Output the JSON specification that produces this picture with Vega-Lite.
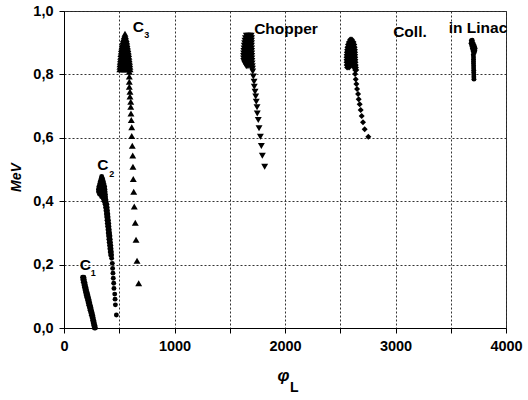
{
"$schema": "https://vega.github.io/schema/vega-lite/v6.json",
"width": 442, "height": 317,
"autosize": "none",
"padding": {"left": 64, "top": 11, "right": 22, "bottom": 72},
"background": "white",
"config": {
  "view": {"stroke": "#222", "strokeWidth": 1},
  "font": "Liberation Sans",
  "axis": {"domainColor": "black", "tickColor": "black", "labelColor": "black", "titleColor": "black", "labelFont": "Liberation Sans", "labelFontWeight": "bold", "labelFontSize": 14.5, "tickSize": 5, "labelPadding": 6, "labelFlush": false, "gridColor": "#333", "gridDash": [2, 2], "gridWidth": 1}
},
"datasets": {
"pts": [
{"s":"C1","x":168,"y":0.160},{"s":"C1","x":180,"y":0.160},
{"s":"C1","x":170,"y":0.152},{"s":"C1","x":184,"y":0.152},
{"s":"C1","x":175,"y":0.144},{"s":"C1","x":189,"y":0.144},
{"s":"C1","x":180,"y":0.136},{"s":"C1","x":194,"y":0.136},
{"s":"C1","x":185,"y":0.128},{"s":"C1","x":199,"y":0.128},
{"s":"C1","x":190,"y":0.120},{"s":"C1","x":204,"y":0.120},
{"s":"C1","x":195,"y":0.112},{"s":"C1","x":210,"y":0.112},
{"s":"C1","x":200,"y":0.104},{"s":"C1","x":216,"y":0.104},
{"s":"C1","x":206,"y":0.096},{"s":"C1","x":222,"y":0.096},
{"s":"C1","x":212,"y":0.088},{"s":"C1","x":228,"y":0.088},
{"s":"C1","x":218,"y":0.080},{"s":"C1","x":233,"y":0.080},
{"s":"C1","x":224,"y":0.072},{"s":"C1","x":238,"y":0.072},
{"s":"C1","x":230,"y":0.064},{"s":"C1","x":244,"y":0.064},
{"s":"C1","x":236,"y":0.056},{"s":"C1","x":249,"y":0.056},
{"s":"C1","x":242,"y":0.048},{"s":"C1","x":255,"y":0.048},
{"s":"C1","x":248,"y":0.040},{"s":"C1","x":260,"y":0.040},
{"s":"C1","x":254,"y":0.032},{"s":"C1","x":265,"y":0.032},
{"s":"C1","x":259,"y":0.024},{"s":"C1","x":270,"y":0.024},
{"s":"C1","x":264,"y":0.016},{"s":"C1","x":275,"y":0.016},
{"s":"C1","x":269,"y":0.008},{"s":"C1","x":280,"y":0.008},
{"s":"C1","x":274,"y":0.000},{"s":"C1","x":285,"y":0.000},
{"s":"C2","x":341,"y":0.478},
{"s":"C2","x":335,"y":0.470},{"s":"C2","x":350,"y":0.470},
{"s":"C2","x":328,"y":0.462},{"s":"C2","x":342,"y":0.462},{"s":"C2","x":356,"y":0.462},
{"s":"C2","x":322,"y":0.454},{"s":"C2","x":336,"y":0.454},{"s":"C2","x":350,"y":0.454},{"s":"C2","x":362,"y":0.454},
{"s":"C2","x":316,"y":0.446},{"s":"C2","x":330,"y":0.446},{"s":"C2","x":344,"y":0.446},{"s":"C2","x":358,"y":0.446},{"s":"C2","x":368,"y":0.446},
{"s":"C2","x":312,"y":0.438},{"s":"C2","x":326,"y":0.438},{"s":"C2","x":340,"y":0.438},{"s":"C2","x":354,"y":0.438},{"s":"C2","x":370,"y":0.438},
{"s":"C2","x":312,"y":0.430},{"s":"C2","x":326,"y":0.430},{"s":"C2","x":340,"y":0.430},{"s":"C2","x":356,"y":0.430},{"s":"C2","x":372,"y":0.430},
{"s":"C2","x":322,"y":0.422},{"s":"C2","x":338,"y":0.422},{"s":"C2","x":355,"y":0.422},{"s":"C2","x":374,"y":0.422},
{"s":"C2","x":340,"y":0.414},{"s":"C2","x":358,"y":0.414},{"s":"C2","x":376,"y":0.414},
{"s":"C2","x":358,"y":0.406},{"s":"C2","x":378,"y":0.406},
{"s":"C2","x":365,"y":0.398},{"s":"C2","x":382,"y":0.398},
{"s":"C2","x":372,"y":0.390},{"s":"C2","x":388,"y":0.390},
{"s":"C2","x":376,"y":0.380},{"s":"C2","x":391,"y":0.380},
{"s":"C2","x":380,"y":0.370},{"s":"C2","x":394,"y":0.370},
{"s":"C2","x":383,"y":0.360},{"s":"C2","x":397,"y":0.360},
{"s":"C2","x":386,"y":0.350},{"s":"C2","x":399,"y":0.350},
{"s":"C2","x":389,"y":0.340},{"s":"C2","x":402,"y":0.340},
{"s":"C2","x":392,"y":0.330},{"s":"C2","x":405,"y":0.330},
{"s":"C2","x":395,"y":0.320},{"s":"C2","x":407,"y":0.320},
{"s":"C2","x":398,"y":0.310},{"s":"C2","x":410,"y":0.310},
{"s":"C2","x":400,"y":0.300},{"s":"C2","x":413,"y":0.300},
{"s":"C2","x":403,"y":0.290},{"s":"C2","x":416,"y":0.290},
{"s":"C2","x":406,"y":0.280},{"s":"C2","x":418,"y":0.280},
{"s":"C2","x":409,"y":0.270},{"s":"C2","x":421,"y":0.270},
{"s":"C2","x":412,"y":0.260},{"s":"C2","x":424,"y":0.260},
{"s":"C2","x":415,"y":0.250},{"s":"C2","x":426,"y":0.250},
{"s":"C2","x":418,"y":0.240},{"s":"C2","x":429,"y":0.240},
{"s":"C2","x":422,"y":0.230},{"s":"C2","x":431,"y":0.230},
{"s":"C2","x":431,"y":0.220},{"s":"C2","x":437,"y":0.204},{"s":"C2","x":440,"y":0.188},{"s":"C2","x":443,"y":0.173},{"s":"C2","x":446,"y":0.157},{"s":"C2","x":450,"y":0.141},{"s":"C2","x":452,"y":0.125},{"s":"C2","x":459,"y":0.107},{"s":"C2","x":462,"y":0.091},{"s":"C2","x":465,"y":0.073},{"s":"C2","x":474,"y":0.041},
{"s":"C3","x":552,"y":0.928},
{"s":"C3","x":545,"y":0.920},{"s":"C3","x":557,"y":0.920},
{"s":"C3","x":538,"y":0.912},{"s":"C3","x":552,"y":0.912},{"s":"C3","x":563,"y":0.912},
{"s":"C3","x":532,"y":0.904},{"s":"C3","x":546,"y":0.904},{"s":"C3","x":560,"y":0.904},{"s":"C3","x":568,"y":0.904},
{"s":"C3","x":528,"y":0.896},{"s":"C3","x":542,"y":0.896},{"s":"C3","x":556,"y":0.896},{"s":"C3","x":570,"y":0.896},
{"s":"C3","x":524,"y":0.888},{"s":"C3","x":538,"y":0.888},{"s":"C3","x":552,"y":0.888},{"s":"C3","x":566,"y":0.888},{"s":"C3","x":575,"y":0.888},
{"s":"C3","x":520,"y":0.880},{"s":"C3","x":534,"y":0.880},{"s":"C3","x":548,"y":0.880},{"s":"C3","x":562,"y":0.880},{"s":"C3","x":578,"y":0.880},
{"s":"C3","x":518,"y":0.872},{"s":"C3","x":532,"y":0.872},{"s":"C3","x":546,"y":0.872},{"s":"C3","x":560,"y":0.872},{"s":"C3","x":574,"y":0.872},{"s":"C3","x":582,"y":0.872},
{"s":"C3","x":515,"y":0.864},{"s":"C3","x":529,"y":0.864},{"s":"C3","x":543,"y":0.864},{"s":"C3","x":557,"y":0.864},{"s":"C3","x":571,"y":0.864},{"s":"C3","x":585,"y":0.864},
{"s":"C3","x":513,"y":0.856},{"s":"C3","x":527,"y":0.856},{"s":"C3","x":541,"y":0.856},{"s":"C3","x":555,"y":0.856},{"s":"C3","x":569,"y":0.856},{"s":"C3","x":588,"y":0.856},
{"s":"C3","x":511,"y":0.848},{"s":"C3","x":525,"y":0.848},{"s":"C3","x":539,"y":0.848},{"s":"C3","x":553,"y":0.848},{"s":"C3","x":567,"y":0.848},{"s":"C3","x":590,"y":0.848},
{"s":"C3","x":509,"y":0.840},{"s":"C3","x":523,"y":0.840},{"s":"C3","x":537,"y":0.840},{"s":"C3","x":551,"y":0.840},{"s":"C3","x":565,"y":0.840},{"s":"C3","x":580,"y":0.840},{"s":"C3","x":593,"y":0.840},
{"s":"C3","x":507,"y":0.832},{"s":"C3","x":521,"y":0.832},{"s":"C3","x":535,"y":0.832},{"s":"C3","x":549,"y":0.832},{"s":"C3","x":563,"y":0.832},{"s":"C3","x":577,"y":0.832},{"s":"C3","x":595,"y":0.832},
{"s":"C3","x":506,"y":0.824},{"s":"C3","x":520,"y":0.824},{"s":"C3","x":534,"y":0.824},{"s":"C3","x":548,"y":0.824},{"s":"C3","x":562,"y":0.824},{"s":"C3","x":576,"y":0.824},{"s":"C3","x":597,"y":0.824},
{"s":"C3","x":505,"y":0.816},{"s":"C3","x":520,"y":0.816},{"s":"C3","x":535,"y":0.816},{"s":"C3","x":550,"y":0.816},{"s":"C3","x":565,"y":0.816},{"s":"C3","x":580,"y":0.816},{"s":"C3","x":598,"y":0.816},
{"s":"C3","x":591,"y":0.808},{"s":"C3","x":591,"y":0.793},{"s":"C3","x":591,"y":0.777},{"s":"C3","x":591,"y":0.761},{"s":"C3","x":597,"y":0.745},{"s":"C3","x":597,"y":0.730},{"s":"C3","x":604,"y":0.714},{"s":"C3","x":604,"y":0.698},{"s":"C3","x":606,"y":0.677},{"s":"C3","x":609,"y":0.656},{"s":"C3","x":613,"y":0.633},{"s":"C3","x":613,"y":0.606},{"s":"C3","x":618,"y":0.575},{"s":"C3","x":622,"y":0.544},{"s":"C3","x":624,"y":0.509},{"s":"C3","x":627,"y":0.470},{"s":"C3","x":631,"y":0.430},{"s":"C3","x":636,"y":0.383},{"s":"C3","x":645,"y":0.332},{"s":"C3","x":652,"y":0.278},{"s":"C3","x":661,"y":0.212},{"s":"C3","x":676,"y":0.141},
{"s":"Chopper","x":1650,"y":0.922},{"s":"Chopper","x":1665,"y":0.922},{"s":"Chopper","x":1680,"y":0.922},{"s":"Chopper","x":1694,"y":0.922},
{"s":"Chopper","x":1642,"y":0.914},{"s":"Chopper","x":1657,"y":0.914},{"s":"Chopper","x":1672,"y":0.914},{"s":"Chopper","x":1687,"y":0.914},{"s":"Chopper","x":1697,"y":0.914},
{"s":"Chopper","x":1638,"y":0.906},{"s":"Chopper","x":1653,"y":0.906},{"s":"Chopper","x":1668,"y":0.906},{"s":"Chopper","x":1683,"y":0.906},{"s":"Chopper","x":1697,"y":0.906},
{"s":"Chopper","x":1635,"y":0.898},{"s":"Chopper","x":1650,"y":0.898},{"s":"Chopper","x":1665,"y":0.898},{"s":"Chopper","x":1680,"y":0.898},{"s":"Chopper","x":1697,"y":0.898},
{"s":"Chopper","x":1632,"y":0.890},{"s":"Chopper","x":1647,"y":0.890},{"s":"Chopper","x":1662,"y":0.890},{"s":"Chopper","x":1677,"y":0.890},{"s":"Chopper","x":1697,"y":0.890},
{"s":"Chopper","x":1630,"y":0.882},{"s":"Chopper","x":1645,"y":0.882},{"s":"Chopper","x":1660,"y":0.882},{"s":"Chopper","x":1675,"y":0.882},{"s":"Chopper","x":1698,"y":0.882},
{"s":"Chopper","x":1628,"y":0.874},{"s":"Chopper","x":1643,"y":0.874},{"s":"Chopper","x":1658,"y":0.874},{"s":"Chopper","x":1673,"y":0.874},{"s":"Chopper","x":1698,"y":0.874},
{"s":"Chopper","x":1626,"y":0.866},{"s":"Chopper","x":1641,"y":0.866},{"s":"Chopper","x":1656,"y":0.866},{"s":"Chopper","x":1671,"y":0.866},{"s":"Chopper","x":1699,"y":0.866},
{"s":"Chopper","x":1625,"y":0.858},{"s":"Chopper","x":1640,"y":0.858},{"s":"Chopper","x":1655,"y":0.858},{"s":"Chopper","x":1670,"y":0.858},{"s":"Chopper","x":1699,"y":0.858},
{"s":"Chopper","x":1625,"y":0.850},{"s":"Chopper","x":1640,"y":0.850},{"s":"Chopper","x":1655,"y":0.850},{"s":"Chopper","x":1670,"y":0.850},{"s":"Chopper","x":1700,"y":0.850},
{"s":"Chopper","x":1627,"y":0.842},{"s":"Chopper","x":1642,"y":0.842},{"s":"Chopper","x":1657,"y":0.842},{"s":"Chopper","x":1672,"y":0.842},{"s":"Chopper","x":1700,"y":0.842},
{"s":"Chopper","x":1635,"y":0.834},{"s":"Chopper","x":1650,"y":0.834},{"s":"Chopper","x":1665,"y":0.834},{"s":"Chopper","x":1685,"y":0.834},{"s":"Chopper","x":1702,"y":0.834},
{"s":"Chopper","x":1650,"y":0.826},{"s":"Chopper","x":1665,"y":0.826},{"s":"Chopper","x":1690,"y":0.826},{"s":"Chopper","x":1704,"y":0.826},
{"s":"Chopper","x":1698,"y":0.818},{"s":"Chopper","x":1706,"y":0.818},
{"s":"Chopper","x":1708,"y":0.809},{"s":"Chopper","x":1713,"y":0.793},{"s":"Chopper","x":1720,"y":0.777},{"s":"Chopper","x":1722,"y":0.761},{"s":"Chopper","x":1729,"y":0.745},{"s":"Chopper","x":1735,"y":0.730},{"s":"Chopper","x":1740,"y":0.714},{"s":"Chopper","x":1747,"y":0.696},{"s":"Chopper","x":1749,"y":0.677},{"s":"Chopper","x":1758,"y":0.656},{"s":"Chopper","x":1765,"y":0.630},{"s":"Chopper","x":1777,"y":0.603},{"s":"Chopper","x":1786,"y":0.574},{"s":"Chopper","x":1795,"y":0.543},{"s":"Chopper","x":1816,"y":0.509},
{"s":"Coll.","x":2590,"y":0.910},{"s":"Coll.","x":2605,"y":0.910},
{"s":"Coll.","x":2578,"y":0.902},{"s":"Coll.","x":2593,"y":0.902},{"s":"Coll.","x":2608,"y":0.902},{"s":"Coll.","x":2620,"y":0.902},
{"s":"Coll.","x":2570,"y":0.894},{"s":"Coll.","x":2585,"y":0.894},{"s":"Coll.","x":2600,"y":0.894},{"s":"Coll.","x":2615,"y":0.894},{"s":"Coll.","x":2627,"y":0.894},
{"s":"Coll.","x":2565,"y":0.886},{"s":"Coll.","x":2580,"y":0.886},{"s":"Coll.","x":2595,"y":0.886},{"s":"Coll.","x":2610,"y":0.886},{"s":"Coll.","x":2625,"y":0.886},{"s":"Coll.","x":2630,"y":0.886},
{"s":"Coll.","x":2562,"y":0.878},{"s":"Coll.","x":2577,"y":0.878},{"s":"Coll.","x":2592,"y":0.878},{"s":"Coll.","x":2607,"y":0.878},{"s":"Coll.","x":2622,"y":0.878},{"s":"Coll.","x":2633,"y":0.878},
{"s":"Coll.","x":2560,"y":0.870},{"s":"Coll.","x":2575,"y":0.870},{"s":"Coll.","x":2590,"y":0.870},{"s":"Coll.","x":2605,"y":0.870},{"s":"Coll.","x":2620,"y":0.870},{"s":"Coll.","x":2634,"y":0.870},
{"s":"Coll.","x":2558,"y":0.862},{"s":"Coll.","x":2573,"y":0.862},{"s":"Coll.","x":2588,"y":0.862},{"s":"Coll.","x":2603,"y":0.862},{"s":"Coll.","x":2618,"y":0.862},{"s":"Coll.","x":2635,"y":0.862},
{"s":"Coll.","x":2557,"y":0.854},{"s":"Coll.","x":2572,"y":0.854},{"s":"Coll.","x":2587,"y":0.854},{"s":"Coll.","x":2602,"y":0.854},{"s":"Coll.","x":2617,"y":0.854},{"s":"Coll.","x":2636,"y":0.854},
{"s":"Coll.","x":2557,"y":0.846},{"s":"Coll.","x":2572,"y":0.846},{"s":"Coll.","x":2587,"y":0.846},{"s":"Coll.","x":2602,"y":0.846},{"s":"Coll.","x":2617,"y":0.846},{"s":"Coll.","x":2637,"y":0.846},
{"s":"Coll.","x":2557,"y":0.838},{"s":"Coll.","x":2572,"y":0.838},{"s":"Coll.","x":2587,"y":0.838},{"s":"Coll.","x":2602,"y":0.838},{"s":"Coll.","x":2620,"y":0.838},{"s":"Coll.","x":2638,"y":0.838},
{"s":"Coll.","x":2558,"y":0.830},{"s":"Coll.","x":2573,"y":0.830},{"s":"Coll.","x":2590,"y":0.830},{"s":"Coll.","x":2610,"y":0.830},{"s":"Coll.","x":2630,"y":0.830},{"s":"Coll.","x":2640,"y":0.830},
{"s":"Coll.","x":2562,"y":0.822},{"s":"Coll.","x":2580,"y":0.822},{"s":"Coll.","x":2625,"y":0.822},{"s":"Coll.","x":2642,"y":0.822},
{"s":"Coll.","x":2635,"y":0.814},{"s":"Coll.","x":2645,"y":0.814},
{"s":"Coll.","x":2634,"y":0.801},{"s":"Coll.","x":2640,"y":0.785},{"s":"Coll.","x":2646,"y":0.770},{"s":"Coll.","x":2652,"y":0.754},{"s":"Coll.","x":2661,"y":0.738},{"s":"Coll.","x":2667,"y":0.722},{"s":"Coll.","x":2676,"y":0.706},{"s":"Coll.","x":2685,"y":0.688},{"s":"Coll.","x":2694,"y":0.669},{"s":"Coll.","x":2706,"y":0.649},{"s":"Coll.","x":2721,"y":0.627},{"s":"Coll.","x":2754,"y":0.603},
{"s":"in Linac","x":3686,"y":0.906},{"s":"in Linac","x":3694,"y":0.908},{"s":"in Linac","x":3684,"y":0.898},{"s":"in Linac","x":3698,"y":0.900},{"s":"in Linac","x":3690,"y":0.890},{"s":"in Linac","x":3706,"y":0.895},{"s":"in Linac","x":3714,"y":0.889},{"s":"in Linac","x":3720,"y":0.882},{"s":"in Linac","x":3696,"y":0.882},{"s":"in Linac","x":3718,"y":0.875},{"s":"in Linac","x":3702,"y":0.874},{"s":"in Linac","x":3712,"y":0.868},{"s":"in Linac","x":3704,"y":0.862},{"s":"in Linac","x":3706,"y":0.855},{"s":"in Linac","x":3706,"y":0.848},{"s":"in Linac","x":3706,"y":0.841},{"s":"in Linac","x":3706,"y":0.834},{"s":"in Linac","x":3707,"y":0.827},{"s":"in Linac","x":3707,"y":0.820},{"s":"in Linac","x":3708,"y":0.813},{"s":"in Linac","x":3708,"y":0.806},{"s":"in Linac","x":3709,"y":0.799},{"s":"in Linac","x":3709,"y":0.792},{"s":"in Linac","x":3710,"y":0.785}
],
"labels": [
{"t":"C","x":193,"y":0.199},{"t":"C","x":351,"y":0.514},{"t":"C","x":673,"y":0.950},
{"t":"Chopper","x":2009,"y":0.943},{"t":"Coll.","x":3131,"y":0.935},{"t":"in Linac","x":3747,"y":0.945}
],
"subs": [
{"t":"1","x":265,"y":0.175},{"t":"2","x":432,"y":0.487},{"t":"3","x":748,"y":0.924}
],
"axsub": [
{"t":"L","x":2084,"y":-0.189}
]
},
"layer": [
{
 "data": {"name": "pts"},
 "mark": {"type": "point", "filled": true, "color": "black", "opacity": 1},
 "encoding": {
  "x": {"field": "x", "type": "quantitative", "scale": {"domain": [0, 4000], "nice": false, "zero": false},
   "axis": {"values": [0,500,1000,1500,2000,2500,3000,3500,4000], "grid": true, "title": "φ", "titleFontSize": 17, "titleFontStyle": "italic", "titleFontWeight": "bold", "titleX": 219, "titleY": 47, "titleBaseline": "middle",
    "labelExpr": "datum.value % 1000 === 0 ? datum.label : ''", "format": "d",
    "encode": {"ticks": {"update": {"y2": {"signal": "datum.value % 1000 === 0 ? 5 : 3"}}}, "grid": {"update": {"strokeOpacity": {"signal": "datum.value % 1000 === 0 && datum.value > 0 && datum.value < 4000 ? 1 : 0"}}}}}},
  "y": {"field": "y", "type": "quantitative", "scale": {"domain": [0, 1], "nice": false, "zero": false},
   "axis": {"values": [0,0.1,0.2,0.3,0.4,0.5,0.6,0.7,0.8,0.9,1], "grid": true, "title": "MeV", "titleFontSize": 14, "titleFontStyle": "italic", "titleFontWeight": "bold", "titleX": -48, "titleY": 166, "titleBaseline": "middle",
    "labelExpr": "round(datum.value*10) % 2 === 0 ? replace(format(datum.value, '.1f'), '.', ',') : ''",
    "encode": {"ticks": {"update": {"x2": {"signal": "round(datum.value*10) % 2 === 0 ? -5 : -3"}}}, "grid": {"update": {"strokeOpacity": {"signal": "round(datum.value*10) % 2 === 0 && datum.value > 0.01 && datum.value < 0.99 ? 1 : 0"}}}}}},
  "shape": {"field": "s", "type": "nominal", "scale": {"domain": ["C1","C2","C3","Chopper","Coll.","in Linac"], "range": ["circle","circle","triangle-up","triangle-down","diamond","circle"]}, "legend": null},
  "size": {"condition": [{"test": "datum.s === 'C3' || datum.s === 'Chopper'", "value": 48}, {"test": "datum.s === 'Coll.'", "value": 36}], "value": 24}
 }
},
{
 "data": {"name": "labels"},
 "mark": {"type": "text", "font": "Liberation Sans", "fontWeight": "bold", "fontSize": 15.5, "color": "black", "align": "center", "baseline": "middle"},
 "encoding": {
  "x": {"field": "x", "type": "quantitative", "scale": {"domain": [0, 4000], "nice": false, "zero": false}},
  "y": {"field": "y", "type": "quantitative", "scale": {"domain": [0, 1], "nice": false, "zero": false}},
  "text": {"field": "t"}
 }
},
{
 "data": {"name": "subs"},
 "mark": {"type": "text", "font": "Liberation Sans", "fontWeight": "bold", "fontSize": 9, "color": "black", "align": "center", "baseline": "middle"},
 "encoding": {
  "x": {"field": "x", "type": "quantitative", "scale": {"domain": [0, 4000], "nice": false, "zero": false}},
  "y": {"field": "y", "type": "quantitative", "scale": {"domain": [0, 1], "nice": false, "zero": false}},
  "text": {"field": "t"}
 }
},
{
 "data": {"name": "axsub"},
 "mark": {"type": "text", "font": "Liberation Sans", "fontWeight": "bold", "fontSize": 14, "color": "black", "align": "center", "baseline": "middle"},
 "encoding": {
  "x": {"field": "x", "type": "quantitative", "scale": {"domain": [0, 4000], "nice": false, "zero": false}},
  "y": {"field": "y", "type": "quantitative", "scale": {"domain": [0, 1], "nice": false, "zero": false}},
  "text": {"field": "t"}
 }
}
]
}
